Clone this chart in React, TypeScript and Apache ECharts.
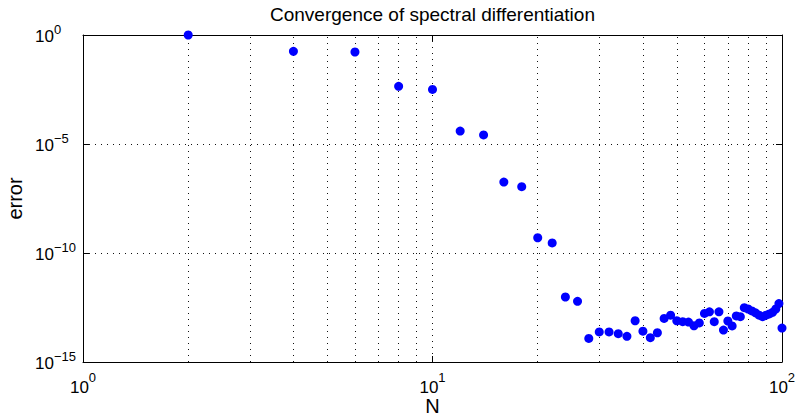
import React, { useEffect, useRef } from "react";
import * as echarts from "echarts";

const titleText = "Convergence of spectral differentiation";
const xName = "N";
const yName = "error";

const N = [
  2, 4, 6, 8, 10, 12, 14, 16, 18, 20, 22, 24, 26, 28, 30, 32, 34, 36, 38, 40,
  42, 44, 46, 48, 50, 52, 54, 56, 58, 60, 62, 64, 66, 68, 70, 72, 74, 76, 78, 80,
  82, 84, 86, 88, 90, 92, 94, 96, 98, 100,
];

const errorValues = [
  1.0, 0.179, 0.166, 4.4e-3, 3.2e-3, 3.9e-5, 2.6e-5, 1.8e-7, 1.1e-7, 5.0e-10,
  2.9e-10, 9.6e-13, 6.1e-13, 1.2e-14, 2.4e-14, 2.4e-14, 2.0e-14, 1.5e-14, 7.8e-14, 2.6e-14,
  1.3e-14, 2.2e-14, 1.0e-13, 1.4e-13, 7.8e-14, 7.1e-14, 6.8e-14, 4.6e-14, 6.2e-14, 1.7e-13,
  2.0e-13, 7.1e-14, 2.0e-13, 2.9e-14, 7.6e-14, 4.5e-14, 1.3e-13, 1.2e-13, 3.1e-13, 2.7e-13,
  2.2e-13, 1.8e-13, 1.4e-13, 1.2e-13, 1.4e-13, 1.6e-13, 1.9e-13, 2.7e-13, 4.8e-13, 3.6e-14,
];

// minor (log) grid positions on the x axis
const xMinorGrid = [2, 3, 4, 5, 6, 7, 8, 9, 20, 30, 40, 50, 60, 70, 80, 90];

const xMin = 1;
const xMax = 100;
const yMin = 1e-15;
const yMax = 1;

const FONT = "'Liberation Sans', Arial, Helvetica, sans-serif";

function powLabel(v: number): string {
  const e = Math.round(Math.log10(v));
  const s = e < 0 ? "\u2212" + String(-e) : String(e);
  return "{b|10}{s|" + s + "}";
}

const dotted = { color: "#111", width: 1, type: [1, 5] as number[] };

export default function App() {
  const ref = useRef<HTMLDivElement>(null);

  useEffect(() => {
    if (!ref.current) return;
    const chart = echarts.init(ref.current, undefined, { renderer: "svg" });
    const points = N.map((n, i) => [n, errorValues[i]]);

    const option: any = {
      animation: false,
      backgroundColor: "#fff",
      textStyle: { fontFamily: FONT },
      title: {
        text: titleText,
        left: 432.5,
        top: 5,
        padding: 0,
        textAlign: "center",
        textStyle: { fontFamily: FONT, fontSize: 19, fontWeight: "normal", color: "#000" },
      },
      grid: {
        left: 83,
        right: 17,
        top: 35,
        bottom: 54,
        containLabel: false,
        outerBoundsMode: "none",
      },
      xAxis: [
        {
          type: "log",
          logBase: 10,
          min: xMin,
          max: xMax,
          interval: 1,
          position: "bottom",
          name: xName,
          nameLocation: "middle",
          nameGap: 36,
          nameMoveOverlap: false,
          nameTextStyle: { fontFamily: FONT, fontSize: 20, lineHeight: 16, color: "#000" },
          axisLine: { show: true, onZero: false, lineStyle: { color: "#000", width: 1 } },
          axisTick: { show: true, inside: true, length: 6, lineStyle: { color: "#000" } },
          splitLine: { show: true, lineStyle: dotted },
          axisLabel: {
            show: true,
            margin: 15,
            showMinLabel: true,
            showMaxLabel: true,
            formatter: (v: number) => powLabel(v),
            rich: {
              b: { fontFamily: FONT, fontSize: 17, lineHeight: 21, color: "#000" },
              s: {
                fontFamily: FONT,
                fontSize: 13,
                lineHeight: 1,
                height: 1,
                verticalAlign: "top",
                color: "#000",
              },
            },
          },
        },
        {
          type: "log",
          logBase: 10,
          min: xMin,
          max: xMax,
          interval: 1,
          position: "top",
          axisLine: { show: true, onZero: false, lineStyle: { color: "#000", width: 1 } },
          axisTick: { show: true, inside: true, length: 6, lineStyle: { color: "#000" } },
          splitLine: { show: false },
          axisLabel: { show: false },
        },
      ],
      yAxis: [
        {
          type: "log",
          logBase: 10,
          min: yMin,
          max: yMax,
          interval: 5,
          position: "left",
          name: yName,
          nameLocation: "middle",
          nameGap: 58,
          nameMoveOverlap: false,
          nameTextStyle: { fontFamily: FONT, fontSize: 20, lineHeight: 20, color: "#000" },
          axisLine: { show: true, onZero: false, lineStyle: { color: "#000", width: 1 } },
          axisTick: { show: true, inside: true, length: 6, lineStyle: { color: "#000" } },
          splitLine: { show: true, lineStyle: dotted },
          axisLabel: {
            show: true,
            align: "left",
            margin: 48,
            padding: [3, 0, 0, 0],
            showMinLabel: true,
            showMaxLabel: true,
            formatter: (v: number) => powLabel(v),
            rich: {
              b: { fontFamily: FONT, fontSize: 17, lineHeight: 27, color: "#000" },
              s: { fontFamily: FONT, fontSize: 13, lineHeight: 10, verticalAlign: "top", color: "#000" },
            },
          },
        },
        {
          type: "log",
          logBase: 10,
          min: yMin,
          max: yMax,
          interval: 5,
          position: "right",
          axisLine: { show: true, onZero: false, lineStyle: { color: "#000", width: 1 } },
          axisTick: { show: true, inside: true, length: 6, lineStyle: { color: "#000" } },
          splitLine: { show: false },
          axisLabel: { show: false },
        },
      ],
      series: [
        {
          type: "scatter",
          xAxisIndex: 0,
          yAxisIndex: 0,
          data: [],
          z: 1,
          silent: true,
          markLine: {
            silent: true,
            z: 1,
            symbol: ["none", "none"],
            label: { show: false },
            lineStyle: dotted,
            emphasis: { disabled: true },
            data: xMinorGrid.map((v) => ({ xAxis: v })),
          },
        },
        {
          type: "scatter",
          xAxisIndex: 0,
          yAxisIndex: 0,
          data: points,
          symbol: "circle",
          symbolSize: 9,
          z: 3,
          clip: false,
          itemStyle: { color: "#0000ff", opacity: 1 },
        },
      ],
    };

    chart.setOption(option);
    return () => chart.dispose();
  }, []);

  return (
    <div
      ref={ref}
      style={{ position: "fixed", left: 0, top: 0, width: 799, height: 416, background: "#fff" }}
    />
  );
}
